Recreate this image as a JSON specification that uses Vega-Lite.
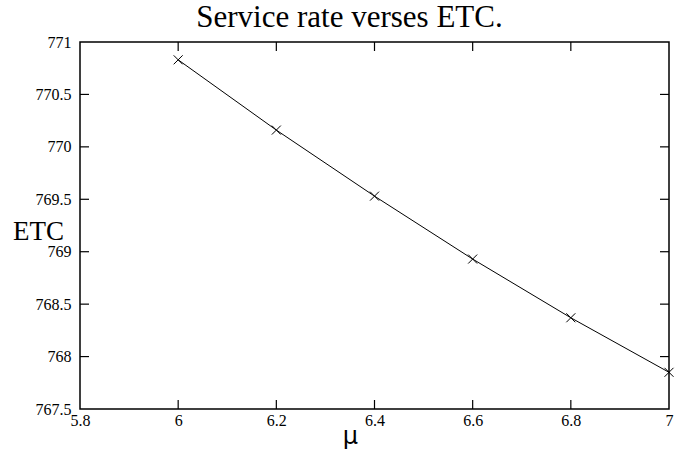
{
  "$schema": "https://vega.github.io/schema/vega-lite/v6.json",
  "autosize": {"type": "none"},
  "width": 589,
  "height": 367,
  "padding": {"left": 80, "top": 42, "right": 9, "bottom": 46},
  "background": "white",
  "title": {
    "text": "Service rate verses ETC.",
    "font": "Liberation Serif",
    "fontSize": 31,
    "fontWeight": "normal",
    "color": "black",
    "anchor": "middle",
    "frame": "group",
    "dx": -25,
    "dy": 10,
    "offset": 10
  },
  "datasets": {
    "series": [
      {"mu": 6.0, "etc": 770.83},
      {"mu": 6.2, "etc": 770.16},
      {"mu": 6.4, "etc": 769.53},
      {"mu": 6.6, "etc": 768.93},
      {"mu": 6.8, "etc": 768.37},
      {"mu": 7.0, "etc": 767.85}
    ],
    "xticks": [{"v": 6}, {"v": 6.2}, {"v": 6.4}, {"v": 6.6}, {"v": 6.8}],
    "yticks": [{"v": 768}, {"v": 768.5}, {"v": 769}, {"v": 769.5}, {"v": 770}, {"v": 770.5}]
  },
  "config": {
    "view": {"stroke": "black", "strokeWidth": 1.5},
    "axis": {
      "grid": false,
      "domain": false,
      "ticks": false,
      "labelFont": "Liberation Serif",
      "labelFontSize": 16,
      "labelColor": "black",
      "titleColor": "black"
    }
  },
  "layer": [
    {
      "data": {"name": "series"},
      "mark": {"type": "line", "color": "black", "strokeWidth": 1},
      "encoding": {
        "x": {
          "field": "mu",
          "type": "quantitative",
          "scale": {"domain": [5.8, 7], "nice": false, "zero": false},
          "axis": {
            "orient": "bottom",
            "values": [5.8, 6, 6.2, 6.4, 6.6, 6.8, 7],
            "format": ".1~f",
            "labelPadding": 3,
            "labelFlush": false,
            "title": "μ",
            "titleFont": "DejaVu Sans",
            "titleFontSize": 24,
            "titleFontWeight": "normal",
            "titleAnchor": "start",
            "titleAlign": "center",
            "titleBaseline": "alphabetic",
            "titleX": 270,
            "titleY": 34
          }
        },
        "y": {
          "field": "etc",
          "type": "quantitative",
          "scale": {"domain": [767.5, 771], "nice": false, "zero": false},
          "axis": {
            "orient": "left",
            "values": [767.5, 768, 768.5, 769, 769.5, 770, 770.5, 771],
            "format": ".1~f",
            "labelPadding": 9,
            "title": "ETC",
            "titleFont": "Liberation Serif",
            "titleFontSize": 27,
            "titleFontWeight": "normal",
            "titleAngle": 0,
            "titleAnchor": "start",
            "titleAlign": "center",
            "titleBaseline": "alphabetic",
            "titleX": -42,
            "titleY": 197
          }
        }
      }
    },
    {
      "data": {"name": "series"},
      "mark": {
        "type": "point",
        "shape": "M-1,-1L1,1M-1,1L1,-1",
        "size": 81,
        "filled": false,
        "color": "black",
        "strokeWidth": 1,
        "opacity": 1
      },
      "encoding": {
        "x": {"field": "mu", "type": "quantitative"},
        "y": {"field": "etc", "type": "quantitative"}
      }
    },
    {
      "data": {"name": "xticks"},
      "mark": {"type": "rule", "color": "black", "strokeWidth": 1.2, "y2Offset": 9},
      "encoding": {
        "x": {"field": "v", "type": "quantitative"},
        "y": {"datum": 771, "type": "quantitative"},
        "y2": {"datum": 771}
      }
    },
    {
      "data": {"name": "xticks"},
      "mark": {"type": "rule", "color": "black", "strokeWidth": 1.2, "y2Offset": -9},
      "encoding": {
        "x": {"field": "v", "type": "quantitative"},
        "y": {"datum": 767.5, "type": "quantitative"},
        "y2": {"datum": 767.5}
      }
    },
    {
      "data": {"name": "yticks"},
      "mark": {"type": "rule", "color": "black", "strokeWidth": 1.2, "x2Offset": 9},
      "encoding": {
        "y": {"field": "v", "type": "quantitative"},
        "x": {"datum": 5.8, "type": "quantitative"},
        "x2": {"datum": 5.8}
      }
    },
    {
      "data": {"name": "yticks"},
      "mark": {"type": "rule", "color": "black", "strokeWidth": 1.2, "x2Offset": -9},
      "encoding": {
        "y": {"field": "v", "type": "quantitative"},
        "x": {"datum": 7, "type": "quantitative"},
        "x2": {"datum": 7}
      }
    }
  ]
}
